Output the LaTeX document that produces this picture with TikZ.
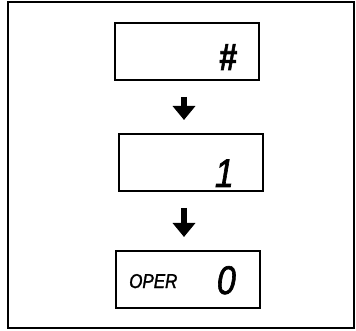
\documentclass[tikz,border=0pt]{standalone}
\usepackage{fontspec}
\setmainfont{Liberation Sans}
\newfontfamily\lcdfont{Liberation Sans}[FakeStretch=0.85, FakeBold=1.5]
\usepackage{tikz}
\usetikzlibrary{positioning}
\usetikzlibrary{arrows.meta}
\tikzset{
  % A display window of the handset
  display/.style={
    draw=black, line width=2pt, fill=white, rectangle,
    minimum width=144pt, minimum height=57pt, inner sep=0pt},
  % The figure shown in a display
  digit/.style={font=\lcdfont\fontsize{40}{40}\selectfont\itshape, inner sep=0pt, anchor=base east},
  % Small legend inside a display
  tag/.style={font=\lcdfont\fontsize{20}{20}\selectfont\itshape, inner sep=0pt, anchor=base west},
  % Step from one display to the next
  next/.style={-{Triangle[width=22pt,length=14pt]}, line width=6pt, draw=black,
    shorten <=16pt, shorten >=13pt},
  frame/.style={draw=black, line width=1.5pt},
}

\begin{document}
\begin{tikzpicture}[x=1pt,y=-1pt]

  \useasboundingbox (0,0) rectangle (356,331);
  \draw[frame] (8,2) rectangle (354,328);

  \node[display] (d1) at (187,51.5) {};
  \node[display] (d2) at (190.5,162.5) {};
  \node[display] (d3) at (188,279.5) {};
  \coordinate (col) at (184,0);

  \node[digit, font=\lcdfont\fontsize{38}{38}\selectfont\bfseries\itshape] (hash) at (237,70) {\#};
  \node[digit] (one) at (234,187) {1};
  \node[digit] (zero) at (236,294) {0};
  \node[tag] (oper) at (129,288) {OPER};

  \draw[next] (d1.south -| col) -- (d2.north -| col);
  \draw[next] (d2.south -| col) -- (d3.north -| col);

\end{tikzpicture}
\end{document}
